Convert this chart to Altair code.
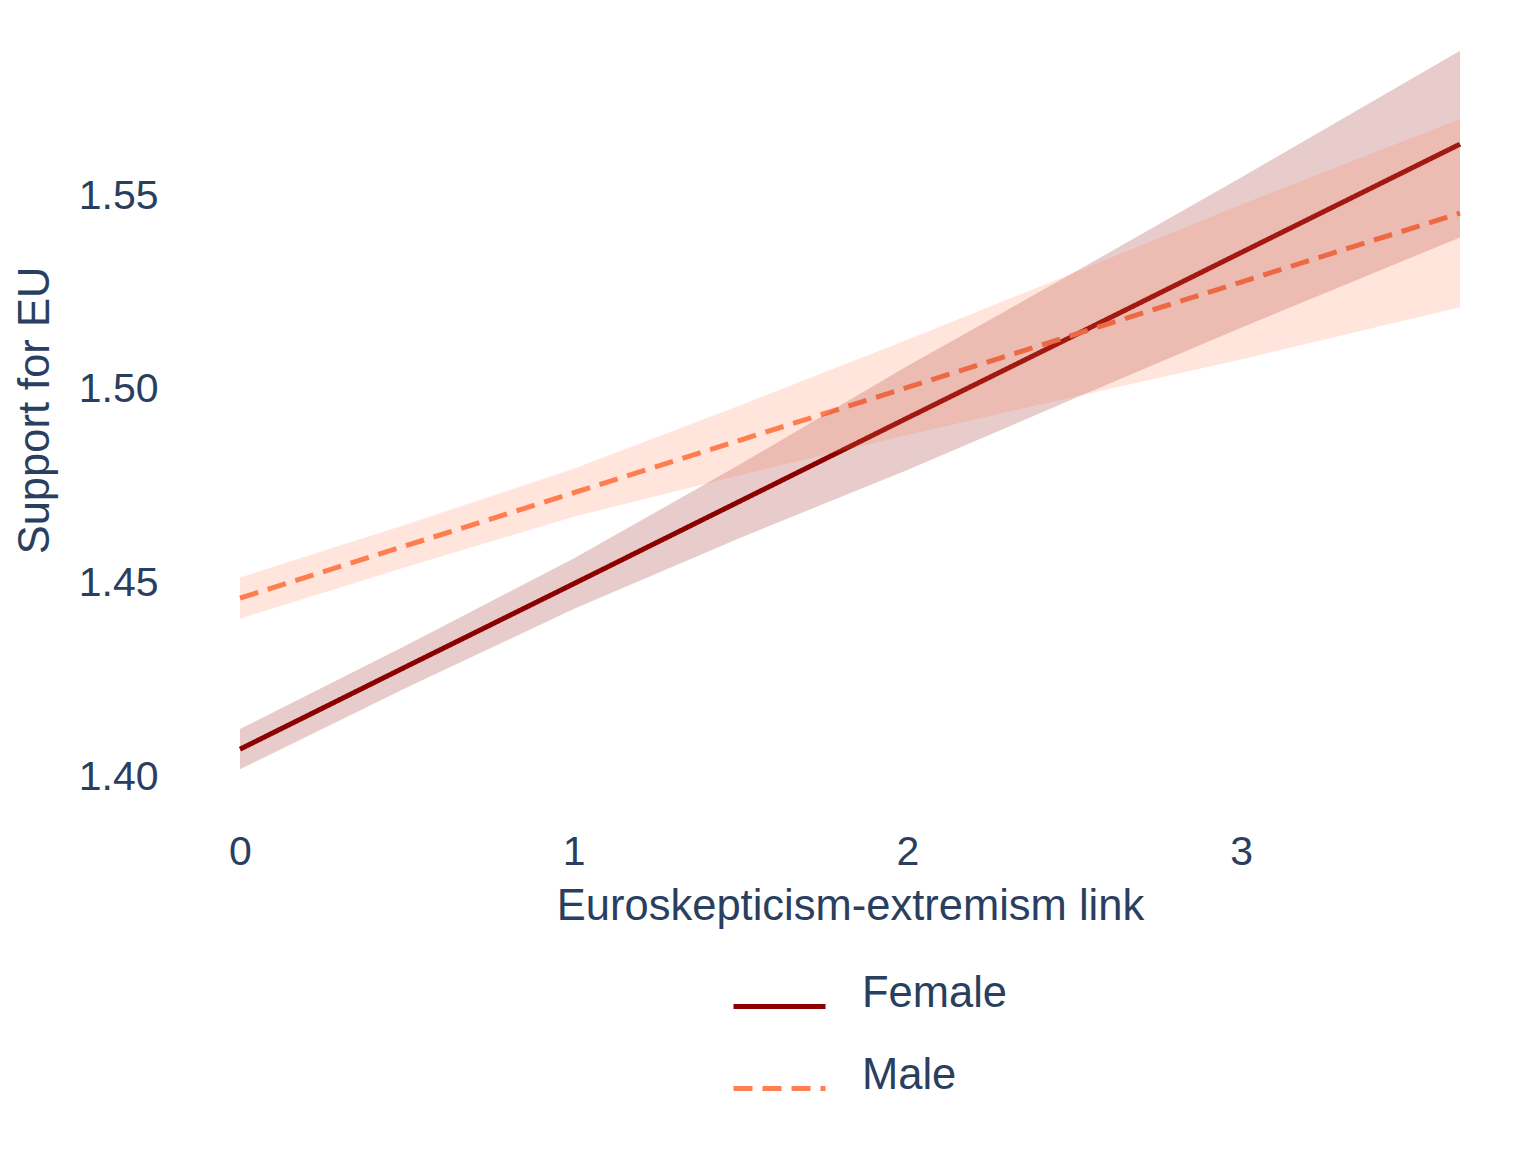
import altair as alt
import pandas as pd

# x positions (Euroskepticism-extremism link)
xs = [0, 0.5, 1, 1.5, 2, 2.5, 3, 3.656]

# Female: fitted value and confidence band
female_fit = [1.4072, 1.4286, 1.4499, 1.4713, 1.4927, 1.5140, 1.5354, 1.5634]
female_lo = [1.4020, 1.4231, 1.4434, 1.4618, 1.4793, 1.4977, 1.5160, 1.5393]
female_hi = [1.4124, 1.4341, 1.4564, 1.4808, 1.5061, 1.5303, 1.5548, 1.5875]

# Male: fitted value and confidence band
male_fit = [1.4462, 1.4598, 1.4734, 1.4870, 1.5006, 1.5142, 1.5278, 1.5456]
male_lo = [1.4409, 1.4543, 1.4672, 1.4780, 1.4883, 1.4982, 1.5078, 1.5213]
male_hi = [1.4515, 1.4653, 1.4796, 1.4960, 1.5129, 1.5302, 1.5478, 1.5699]

series = ["Female", "Male"]
colors = ["#8B0000", "#FF7F50"]
y_ticks = [1.40, 1.45, 1.50, 1.55]
x_ticks = [0, 1, 2, 3]

rows = []
for name, fit, lo, hi in [("Female", female_fit, female_lo, female_hi),
                          ("Male", male_fit, male_lo, male_hi)]:
    for x, f, l, h in zip(xs, fit, lo, hi):
        rows.append({"x": x, "fit": f, "lo": l, "hi": h, "group": name})
df = pd.DataFrame(rows)

FONT = "Liberation Sans"
TXT = "#2a3f5f"

xscale = alt.Scale(domain=[0, 3.656], nice=False, zero=False)
yscale = alt.Scale(domain=[1.3915, 1.5877], nice=False, zero=False)

legend = alt.Legend(
    title=None, orient="none", legendX=491, legendY=908,
    symbolType="stroke", symbolSize=8464, symbolStrokeWidth=5,
    labelFont=FONT, labelFontSize=43.5, labelColor=TXT, labelOffset=34,
    labelBaseline="alphabetic",
    rowPadding=23,
)

base = alt.Chart(df)

lines = base.mark_line(strokeWidth=5).encode(
    x=alt.X("x:Q", scale=xscale,
            axis=alt.Axis(values=x_ticks, format="d", title="Euroskepticism-extremism link",
                          labelFlush=False)),
    y=alt.Y("fit:Q", scale=yscale,
            axis=alt.Axis(values=y_ticks, format=".2f", title="Support for EU",
                          titleX=-183, titleY=360)),
    color=alt.Color("group:N", scale=alt.Scale(domain=series, range=colors), legend=legend),
    strokeDash=alt.StrokeDash("group:N",
                              scale=alt.Scale(domain=series, range=[[1, 0], [19, 10]]),
                              legend=legend),
)

bands = base.mark_area(opacity=0.2).encode(
    x=alt.X("x:Q", scale=xscale),
    y=alt.Y("lo:Q", scale=yscale),
    y2="hi:Q",
    fill=alt.Fill("group:N", scale=alt.Scale(domain=series, range=colors), legend=None),
)

chart = alt.layer(lines, bands).properties(
    width=1220,
    height=760,
    autosize="none",
    padding={"left": 232, "top": 42, "right": 60, "bottom": 330},
).configure_view(stroke=None).configure_axis(
    domain=False, ticks=False, grid=False,
    labelFont=FONT, labelFontSize=41, labelColor=TXT,
    titleFont=FONT, titleFontSize=43.5, titleColor=TXT, titleFontWeight="normal",
).configure_axisY(
    labelPadding=82,
).configure_axisX(
    labelPadding=22, titlePadding=13,
)

chart.save("out.html", embed_options={"renderer": "svg", "actions": False})
